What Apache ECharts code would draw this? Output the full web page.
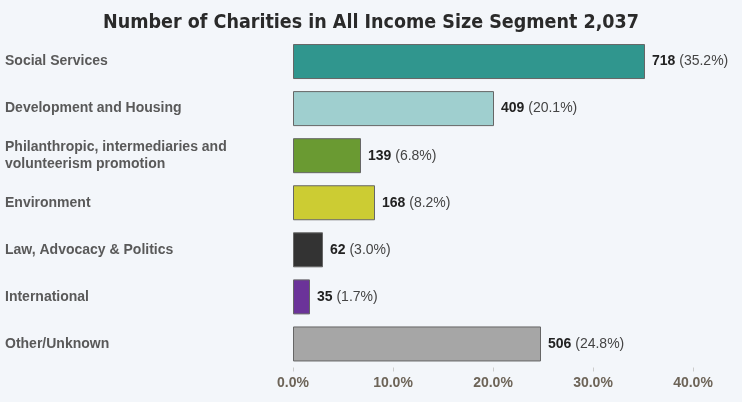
<!DOCTYPE html>
<html><head><meta charset="utf-8">
<script src="https://cdn.jsdelivr.net/npm/echarts@6/dist/echarts.min.js"></script>
<style>html,body{margin:0;padding:0;background:#f3f6fa;}#c{width:742px;height:402px;}</style>
</head><body><div id="c"></div>
<script>
var categories = ["Social Services","Development and Housing","Philanthropic, intermediaries and\nvolunteerism promotion","Environment","Law, Advocacy & Politics","International","Other/Unknown"];
var counts = [718,409,139,168,62,35,506];
var percents = [35.2,20.1,6.8,8.2,3.0,1.7,24.8];
var colors = ["#30968e","#9fcfcf","#6a9a32","#cccc33","#333333","#6b3399","#a6a6a6"];
var xTicks = [0,10,20,30,40];

var chart = echarts.init(document.getElementById('c'));
chart.setOption({
  backgroundColor:'#f3f6fa',
  animation:false,
  title:{text:'Number of Charities in All Income Size Segment 2,037',left:'center',top:8,
    textStyle:{fontFamily:'DejaVu Sans Condensed',fontSize:19.5,fontWeight:'bold',color:'#2a2a2a'}},
  grid:{left:293,right:49,top:38,bottom:34.5,containLabel:false},
  xAxis:{type:'value',min:xTicks[0],max:xTicks[xTicks.length-1],interval:10,
    axisLine:{show:false},axisTick:{show:true,length:4,lineStyle:{color:'#ccc'}},
    splitLine:{show:false},
    axisLabel:{margin:9,color:'#6d6458',fontFamily:'Liberation Sans, Arial',fontSize:14,fontWeight:'bold',
      formatter:function(v){return v.toFixed(1)+'%';}}},
  yAxis:{type:'category',inverse:true,data:categories,
    axisLine:{show:false},axisTick:{show:false},
    axisLabel:{align:'left',margin:288,color:'#595959',fontFamily:'Liberation Sans, Arial',fontSize:14,fontWeight:'bold',lineHeight:17}},
  series:[{type:'bar',barWidth:35,
    data:percents.map(function(p,i){return {value:p,itemStyle:{color:colors[i],borderColor:'#666',borderWidth:1}};}),
    label:{show:true,position:'right',distance:7,fontFamily:'Liberation Sans, Arial',fontSize:14,color:'#444',
      formatter:function(p){return '{b|'+counts[p.dataIndex]+'} ('+percents[p.dataIndex].toFixed(1)+'%)';},
      rich:{b:{fontWeight:'bold',fontSize:14,color:'#222',fontFamily:'Liberation Sans, Arial'}}}
  }]
});
</script></body></html>
